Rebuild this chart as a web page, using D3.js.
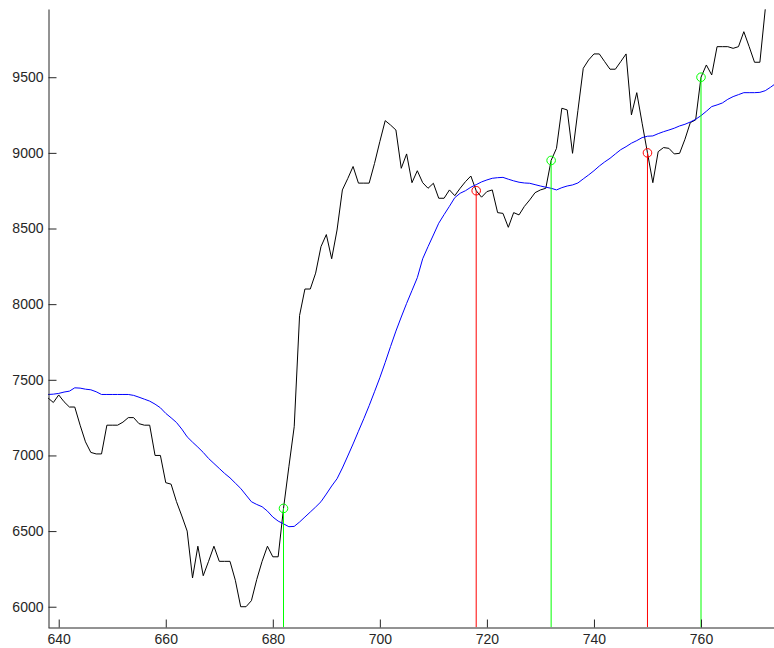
<!DOCTYPE html>
<html>
<head>
<meta charset="utf-8">
<script src="https://cdn.jsdelivr.net/npm/d3@7/dist/d3.min.js"></script>
<style>
  html, body { margin: 0; padding: 0; background: #fff; }
  svg { display: block; }
  .tick text { font-family: "Liberation Sans", Arial, Helvetica, sans-serif; font-size: 14px; fill: #262626; }
</style>
</head>
<body>
<svg id="chart" width="774" height="648"></svg>
<script>
// ---- data ----
const startDay = 638;
const price = [
  7380, 7350, 7400, 7355, 7320, 7320, 7200, 7090, 7020, 7010,
  7010, 7200, 7200, 7200, 7220, 7250, 7250, 7210, 7200, 7200,
  7000, 7000, 6820, 6810, 6695, 6600, 6500, 6190, 6400, 6205,
  6300, 6400, 6300, 6300, 6300, 6175, 6000, 6000, 6040, 6180,
  6300, 6400, 6330, 6330, 6650, 6925, 7190, 7925, 8100, 8100,
  8205, 8380, 8460, 8300, 8490, 8755, 8830, 8910, 8800, 8800,
  8800, 8930, 9075, 9213, 9184, 9151, 8898, 8993, 8803, 8882,
  8803, 8766, 8799, 8700, 8700, 8755, 8717, 8766, 8810, 8847,
  8750, 8707, 8744, 8755, 8605, 8600, 8508, 8605, 8590, 8646,
  8689, 8737, 8755, 8766, 8950, 9030, 9295, 9284, 8997, 9279,
  9559, 9614, 9654, 9654, 9603, 9553, 9553, 9603, 9654, 9251,
  9398, 9196, 9000, 8803, 9008, 9035, 9030, 8993, 8997, 9090,
  9200, 9218, 9500, 9581, 9515, 9702, 9702, 9702, 9691, 9702,
  9801, 9702, 9599, 9599, 9949
];
const movingAvg = [
  7403, 7405, 7410, 7419, 7425, 7447, 7445, 7438, 7434, 7421,
  7403, 7403, 7403, 7403, 7403, 7403, 7397, 7385, 7372, 7359,
  7339, 7315, 7278, 7249, 7218, 7174, 7123, 7088, 7055, 7020,
  6980, 6947, 6914, 6881, 6852, 6817, 6782, 6738, 6694, 6676,
  6661, 6632, 6593, 6566, 6548, 6529, 6531, 6560, 6593, 6626,
  6659, 6694, 6745, 6798, 6846, 6917, 6996, 7076, 7160, 7243,
  7329, 7421, 7514, 7615, 7720, 7822, 7915, 8005, 8090, 8175,
  8300, 8380, 8457, 8535, 8592, 8647, 8704, 8733, 8750, 8773,
  8790, 8808, 8821, 8832, 8836, 8838, 8826, 8815, 8806, 8801,
  8799, 8790, 8781, 8773, 8766, 8755, 8770, 8781, 8788, 8801,
  8828, 8854, 8882, 8913, 8940, 8964, 8993, 9021, 9041, 9064,
  9081, 9101, 9110, 9112, 9127, 9140, 9151, 9163, 9178, 9189,
  9204, 9222, 9246, 9275, 9306, 9317, 9330, 9354, 9372, 9385,
  9398, 9398, 9398, 9400, 9411, 9434, 9460
];
const buyDays = [682, 732, 760];
const buyPrices = [6650, 8950, 9500];
const sellDays = [718, 750];
const sellPrices = [8750, 9000];
const xTicks = [640, 660, 680, 700, 720, 740, 760];
const yTicks = [6000, 6500, 7000, 7500, 8000, 8500, 9000, 9500];

// ---- chart ----
const svg = d3.select("#chart");
const x = d3.scaleLinear().domain([638, 773.6]).range([48, 773.8]);
const y = d3.scaleLinear().domain([5864, 9951]).range([627.3, 9]);

svg.append("defs").append("clipPath").attr("id", "plotclip")
  .append("rect").attr("x", 48).attr("y", 0).attr("width", 726).attr("height", 627.3);

const plot = svg.append("g").attr("clip-path", "url(#plotclip)");

const priceData = price.map((v, i) => [startDay + i, v]);
const avgData = movingAvg.map((v, i) => [startDay + i, v]);
const line = d3.line().x(d => x(d[0])).y(d => y(d[1]));

plot.append("path").datum(priceData).attr("d", line)
  .attr("fill", "none").attr("stroke", "#000").attr("stroke-width", 1);
plot.append("path").datum(avgData).attr("d", line)
  .attr("fill", "none").attr("stroke", "#0000ff").attr("stroke-width", 1);

const buys = buyDays.map((d, i) => ({ d, v: buyPrices[i] }));
const sells = sellDays.map((d, i) => ({ d, v: sellPrices[i] }));

function signals(arr, color) {
  plot.selectAll(null).data(arr).enter().append("line")
    .attr("x1", s => x(s.d)).attr("x2", s => x(s.d))
    .attr("y1", y(5864)).attr("y2", s => y(s.v))
    .attr("stroke", color).attr("stroke-width", 1);
  plot.selectAll(null).data(arr).enter().append("circle")
    .attr("cx", s => x(s.d)).attr("cy", s => y(s.v)).attr("r", 4.3)
    .attr("fill", "none").attr("stroke", color).attr("stroke-width", 1);
}
signals(buys, "#00ff00");
signals(sells, "#ff0000");

// axes
const yAxis = svg.append("g").attr("transform", "translate(48.5,0)")
  .call(d3.axisLeft(y).tickValues(yTicks).tickFormat(d3.format("d"))
    .tickSizeInner(-8).tickSizeOuter(0).tickPadding(5));
const xAxis = svg.append("g").attr("transform", "translate(0,627.5)")
  .call(d3.axisBottom(x).tickValues(xTicks).tickFormat(d3.format("d"))
    .tickSizeInner(-8).tickSizeOuter(0).tickPadding(6.5));
[yAxis, xAxis].forEach(g => {
  g.select(".domain").attr("stroke", "#262626");
  g.selectAll(".tick line").attr("stroke", "#262626");
  g.attr("font-family", null).attr("font-size", null);
});
</script>
</body>
</html>
